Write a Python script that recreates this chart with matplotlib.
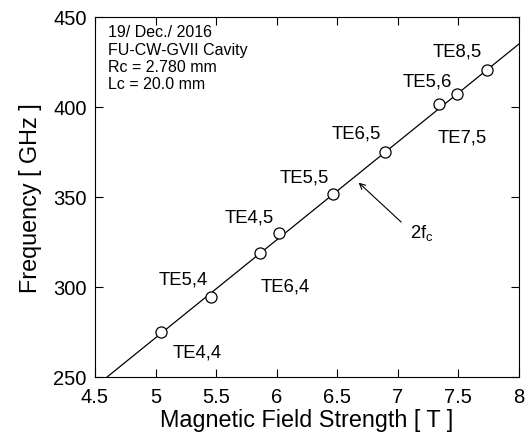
import matplotlib
matplotlib.use('Agg')
import matplotlib.pyplot as plt

plt.rcParams['font.family'] = ['Liberation Sans', 'DejaVu Sans']

# measured points
field = [5.045, 5.455, 5.86, 6.017, 6.463, 6.895, 7.338, 7.486, 7.734]
freq = [275.2, 294.3, 318.7, 330.2, 351.8, 375.0, 401.5, 407.4, 420.7]

# 2fc line
line_b = [4.6, 8.0]
line_f = [250.0, 435.0]

mode_names = ['TE4,4', 'TE5,4', 'TE6,4', 'TE4,5', 'TE5,5',
              'TE6,5', 'TE7,5', 'TE5,6', 'TE8,5']
mode_x = [5.34, 5.23, 6.07, 5.77, 6.23, 6.66, 7.53, 7.24, 7.49]
mode_y = [263.7, 304.4, 300.7, 338.7, 361.0, 385.4, 383.2, 414.6, 430.9]

info = '19/ Dec./ 2016\nFU-CW-GVII Cavity\nRc = 2.780 mm\nLc = 20.0 mm'

fig = plt.figure(figsize=(5.26, 4.39), dpi=100)
ax = fig.add_axes([0.1806, 0.139, 0.806, 0.82])

ax.plot(line_b, line_f, color='black', lw=0.9)
ax.plot(field, freq, 'o', mfc='white', mec='black', ms=8, mew=0.9)

for name, x, y in zip(mode_names, mode_x, mode_y):
    ax.text(x, y, name, ha='center', va='center', fontsize=13.3)

ax.annotate('', xy=(6.66, 359), xytext=(7.045, 335),
            arrowprops=dict(arrowstyle='->', color='black', lw=0.8))
ax.text(7.2, 330.4, r'2f$_{\mathregular{c}}$', ha='center', va='center',
        fontsize=13.3)

ax.text(0.03, 0.98, info, transform=ax.transAxes, ha='left', va='top',
        fontsize=11.5, linespacing=1.2)

ax.set_xlim(4.5, 8)
ax.set_ylim(250, 450)
ax.set_xticks([4.5, 5, 5.5, 6, 6.5, 7, 7.5, 8])
ax.set_xticklabels(['4.5', '5', '5.5', '6', '6.5', '7', '7.5', '8'])
ax.set_yticks([250, 300, 350, 400, 450])
ax.tick_params(direction='in', top=True, right=True, length=6,
               labelsize=14.5)
ax.tick_params(axis='x', pad=7)
ax.tick_params(axis='y', pad=6)
ax.set_xlabel('Magnetic Field Strength [ T ]', fontsize=16.8, labelpad=2)
ax.set_ylabel('Frequency [ GHz ]', fontsize=16.8, labelpad=8)

fig.savefig('out.png', dpi=100)
